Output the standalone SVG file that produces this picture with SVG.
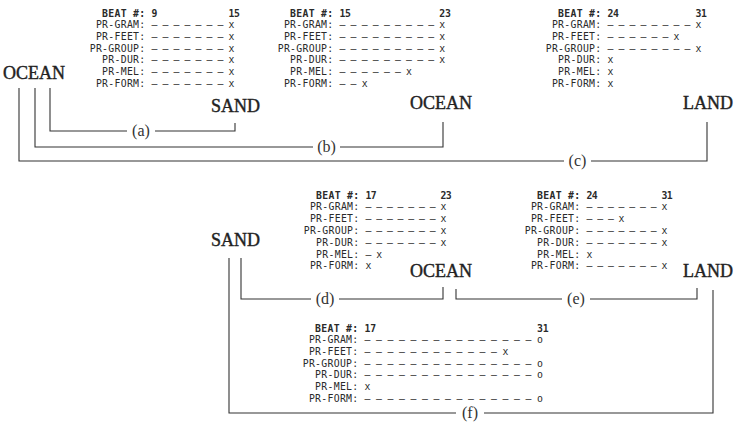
<svg xmlns="http://www.w3.org/2000/svg" width="734" height="426" viewBox="0 0 734 426">
<style>
.tb text{font-family:"DejaVu Sans Mono","Liberation Mono",monospace;font-size:9.8px;fill:#2a2a2a;white-space:pre}
.tb .l{text-anchor:end;letter-spacing:0.3px}
.tb .hd{font-weight:bold}
.t1 .c{letter-spacing:-0.4px}
.t2 .c{letter-spacing:-0.35px}
.t3 .c{letter-spacing:-0.4px}
.t4 .c{letter-spacing:-0.55px}
.t5 .c{letter-spacing:-0.55px}
.t6 .c{letter-spacing:-0.15px}
.big{font-family:"Liberation Serif","Times New Roman",serif;font-size:18px;fill:#222;stroke:#222;stroke-width:0.4}
.lab{font-family:"Liberation Serif","Times New Roman",serif;font-size:16px;fill:#333;text-anchor:middle}
.cn{fill:none;stroke:#333;stroke-width:1.1}
</style>
<rect width="734" height="426" fill="#fff"/>
<g id="table-9-15" class="tb t1">
<text class="l hd" x="145.5" y="16.5">BEAT #:</text>
<text class="l" x="145.5" y="28.2">PR-GRAM:</text>
<text class="l" x="145.5" y="39.9">PR-FEET:</text>
<text class="l" x="145.5" y="51.6">PR-GROUP:</text>
<text class="l" x="145.5" y="63.3">PR-DUR:</text>
<text class="l" x="145.5" y="75">PR-MEL:</text>
<text class="l" x="145.5" y="86.7">PR-FORM:</text>
<text xml:space="preserve" class="c hd" x="151.5" y="16.5">9             15</text>
<text xml:space="preserve" class="c" x="151.5" y="28.2">– – – – – – – x</text>
<text xml:space="preserve" class="c" x="151.5" y="39.9">– – – – – – – x</text>
<text xml:space="preserve" class="c" x="151.5" y="51.6">– – – – – – – x</text>
<text xml:space="preserve" class="c" x="151.5" y="63.3">– – – – – – – x</text>
<text xml:space="preserve" class="c" x="151.5" y="75">– – – – – – – x</text>
<text xml:space="preserve" class="c" x="151.5" y="86.7">– – – – – – – x</text>
</g>
<g id="table-15-23" class="tb t2">
<text class="l hd" x="333.5" y="16.5">BEAT #:</text>
<text class="l" x="333.5" y="28.2">PR-GRAM:</text>
<text class="l" x="333.5" y="39.9">PR-FEET:</text>
<text class="l" x="333.5" y="51.6">PR-GROUP:</text>
<text class="l" x="333.5" y="63.3">PR-DUR:</text>
<text class="l" x="333.5" y="75">PR-MEL:</text>
<text class="l" x="333.5" y="86.7">PR-FORM:</text>
<text xml:space="preserve" class="c hd" x="339.5" y="16.5">15                23</text>
<text xml:space="preserve" class="c" x="339.5" y="28.2">– – – – – – – – – x</text>
<text xml:space="preserve" class="c" x="339.5" y="39.9">– – – – – – – – – x</text>
<text xml:space="preserve" class="c" x="339.5" y="51.6">– – – – – – – – – x</text>
<text xml:space="preserve" class="c" x="339.5" y="63.3">– – – – – – – – – x</text>
<text xml:space="preserve" class="c" x="339.5" y="75">– – – – – – x</text>
<text xml:space="preserve" class="c" x="339.5" y="86.7">– – x</text>
</g>
<g id="table-24-31-top" class="tb t3">
<text class="l hd" x="601.5" y="16.5">BEAT #:</text>
<text class="l" x="601.5" y="28.2">PR-GRAM:</text>
<text class="l" x="601.5" y="39.9">PR-FEET:</text>
<text class="l" x="601.5" y="51.6">PR-GROUP:</text>
<text class="l" x="601.5" y="63.3">PR-DUR:</text>
<text class="l" x="601.5" y="75">PR-MEL:</text>
<text class="l" x="601.5" y="86.7">PR-FORM:</text>
<text xml:space="preserve" class="c hd" x="607.5" y="16.5">24              31</text>
<text xml:space="preserve" class="c" x="607.5" y="28.2">– – – – – – – – x</text>
<text xml:space="preserve" class="c" x="607.5" y="39.9">– – – – – – x</text>
<text xml:space="preserve" class="c" x="607.5" y="51.6">– – – – – – – – x</text>
<text xml:space="preserve" class="c" x="607.5" y="63.3">x</text>
<text xml:space="preserve" class="c" x="607.5" y="75">x</text>
<text xml:space="preserve" class="c" x="607.5" y="86.7">x</text>
</g>
<g id="table-17-23" class="tb t4">
<text class="l hd" x="359.5" y="198.5">BEAT #:</text>
<text class="l" x="359.5" y="210.3">PR-GRAM:</text>
<text class="l" x="359.5" y="222.1">PR-FEET:</text>
<text class="l" x="359.5" y="233.9">PR-GROUP:</text>
<text class="l" x="359.5" y="245.7">PR-DUR:</text>
<text class="l" x="359.5" y="257.5">PR-MEL:</text>
<text class="l" x="359.5" y="269.3">PR-FORM:</text>
<text xml:space="preserve" class="c hd" x="365.5" y="198.5">17            23</text>
<text xml:space="preserve" class="c" x="365.5" y="210.3">– – – – – – – x</text>
<text xml:space="preserve" class="c" x="365.5" y="222.1">– – – – – – – x</text>
<text xml:space="preserve" class="c" x="365.5" y="233.9">– – – – – – – x</text>
<text xml:space="preserve" class="c" x="365.5" y="245.7">– – – – – – – x</text>
<text xml:space="preserve" class="c" x="365.5" y="257.5">– x</text>
<text xml:space="preserve" class="c" x="365.5" y="269.3">x</text>
</g>
<g id="table-24-31-bottom" class="tb t5">
<text class="l hd" x="580.5" y="198.5">BEAT #:</text>
<text class="l" x="580.5" y="210.3">PR-GRAM:</text>
<text class="l" x="580.5" y="222.1">PR-FEET:</text>
<text class="l" x="580.5" y="233.9">PR-GROUP:</text>
<text class="l" x="580.5" y="245.7">PR-DUR:</text>
<text class="l" x="580.5" y="257.5">PR-MEL:</text>
<text class="l" x="580.5" y="269.3">PR-FORM:</text>
<text xml:space="preserve" class="c hd" x="586.5" y="198.5">24            31</text>
<text xml:space="preserve" class="c" x="586.5" y="210.3">– – – – – – – x</text>
<text xml:space="preserve" class="c" x="586.5" y="222.1">– – – x</text>
<text xml:space="preserve" class="c" x="586.5" y="233.9">– – – – – – – x</text>
<text xml:space="preserve" class="c" x="586.5" y="245.7">– – – – – – – x</text>
<text xml:space="preserve" class="c" x="586.5" y="257.5">x</text>
<text xml:space="preserve" class="c" x="586.5" y="269.3">– – – – – – – x</text>
</g>
<g id="table-17-31" class="tb t6">
<text class="l hd" x="358.5" y="331.5">BEAT #:</text>
<text class="l" x="358.5" y="343.2">PR-GRAM:</text>
<text class="l" x="358.5" y="354.9">PR-FEET:</text>
<text class="l" x="358.5" y="366.6">PR-GROUP:</text>
<text class="l" x="358.5" y="378.3">PR-DUR:</text>
<text class="l" x="358.5" y="390">PR-MEL:</text>
<text class="l" x="358.5" y="401.7">PR-FORM:</text>
<text xml:space="preserve" class="c hd" x="364.5" y="331.5">17                            31</text>
<text xml:space="preserve" class="c" x="364.5" y="343.2">– – – – – – – – – – – – – – – o</text>
<text xml:space="preserve" class="c" x="364.5" y="354.9">– – – – – – – – – – – – x</text>
<text xml:space="preserve" class="c" x="364.5" y="366.6">– – – – – – – – – – – – – – – o</text>
<text xml:space="preserve" class="c" x="364.5" y="378.3">– – – – – – – – – – – – – – – o</text>
<text xml:space="preserve" class="c" x="364.5" y="390">x</text>
<text xml:space="preserve" class="c" x="364.5" y="401.7">– – – – – – – – – – – – – – – o</text>
</g>
<g id="ocean-top-left"><text class="big" x="3" y="79">OCEAN</text></g>
<g id="sand-top"><text class="big" x="211" y="112">SAND</text></g>
<g id="ocean-top-mid"><text class="big" x="410" y="109">OCEAN</text></g>
<g id="land-top"><text class="big" x="683" y="109">LAND</text></g>
<g id="sand-bottom"><text class="big" x="211" y="246">SAND</text></g>
<g id="ocean-bottom"><text class="big" x="410" y="277">OCEAN</text></g>
<g id="land-bottom"><text class="big" x="683" y="277">LAND</text></g>
<g id="connectors">
<path class="cn" d="M50,88V131H127M155,131H235V123"/>
<path class="cn" d="M35,88V147H313M340,147H443V122"/>
<path class="cn" d="M19,88V161H564M591,161H707V122"/>
<path class="cn" d="M241,258V299H311M339,299H443V287"/>
<path class="cn" d="M456,289V299H562M590,299H697V288"/>
<path class="cn" d="M229,258V413H456M484,413H713V290"/>
<text class="lab" x="141" y="135.5">(a)</text>
<text class="lab" x="326.5" y="151.5">(b)</text>
<text class="lab" x="577.5" y="165.5">(c)</text>
<text class="lab" x="325" y="303.5">(d)</text>
<text class="lab" x="576" y="303.5">(e)</text>
<text class="lab" x="470" y="417.5">(f)</text>
</g>
</svg>
